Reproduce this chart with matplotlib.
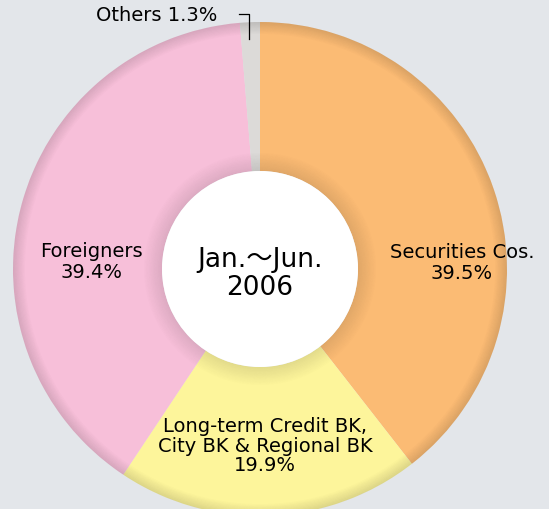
import matplotlib
matplotlib.use("Agg")
import matplotlib.pyplot as plt
from matplotlib.patches import Wedge, Circle
import numpy as np

plt.rcParams['font.family'] = ['DejaVu Sans', 'Noto Sans CJK JP']

categories = ["Securities Cos.", "Long-term Credit BK,\nCity BK & Regional BK", "Foreigners", "Others"]
values = [39.5, 19.9, 39.4, 1.3]
colors = ["#fbbb74", "#fdf59b", "#f7bfd9", "#dcdad8"]
center_title = "Jan.～Jun.\n2006"

W, H = 549, 509
fig = plt.figure(figsize=(W / 100, H / 100), dpi=100)
fig.patch.set_facecolor("#e3e6ea")
ax = fig.add_axes([0, 0, 1, 1])
ax.set_facecolor("#e3e6ea")

cx, cy = 260, H - 269
R, r_in = 247, 98

wedges, _ = ax.pie(values, colors=colors, startangle=90, counterclock=False,
                   center=(cx, cy), radius=R, wedgeprops=dict(width=R - r_in, linewidth=0))

# bevel shading on outer rim and around inner hole
for i in range(10):
    rr = R - i * 1.2
    ax.add_patch(Wedge((cx, cy), rr, 0, 360, width=1.2, facecolor="black",
                       alpha=0.0125 * (10 - i), linewidth=0))
for i in range(14):
    ax.add_patch(Wedge((cx, cy), r_in + (i + 1) * 1.3, 0, 360, width=1.3, facecolor="black",
                       alpha=0.0072 * (14 - i), linewidth=0))

ax.add_patch(Circle((cx, cy), r_in, facecolor="white", edgecolor="none", zorder=5))
ax.text(cx, H - 274, center_title, ha="center", va="center", fontsize=19,
        linespacing=1.06, zorder=6, color="black")

lab_fs = 14
ax.text(462, H - 263, f"{categories[0]}\n{values[0]}%", ha="center", va="center",
        fontsize=lab_fs, linespacing=1.08, zorder=6)
ax.text(265, H - 446, f"{categories[1]}\n{values[1]}%", ha="center", va="center",
        fontsize=lab_fs, linespacing=1.05, zorder=6)
ax.text(91, H - 262, f"{categories[2]}\n{values[2]}%", ha="center", va="center",
        fontsize=lab_fs, linespacing=1.08, zorder=6)
ax.text(157, H - 15, f"{categories[3]} {values[3]}%", ha="center", va="center",
        fontsize=lab_fs, zorder=6)
ax.plot([239, 249, 249], [H - 14, H - 14, H - 39], color="black", lw=0.9, zorder=6)

ax.set_xlim(0, W)
ax.set_ylim(0, H)
ax.set_aspect("equal")
ax.axis("off")
fig.savefig("out.png", dpi=100, facecolor=fig.get_facecolor())
